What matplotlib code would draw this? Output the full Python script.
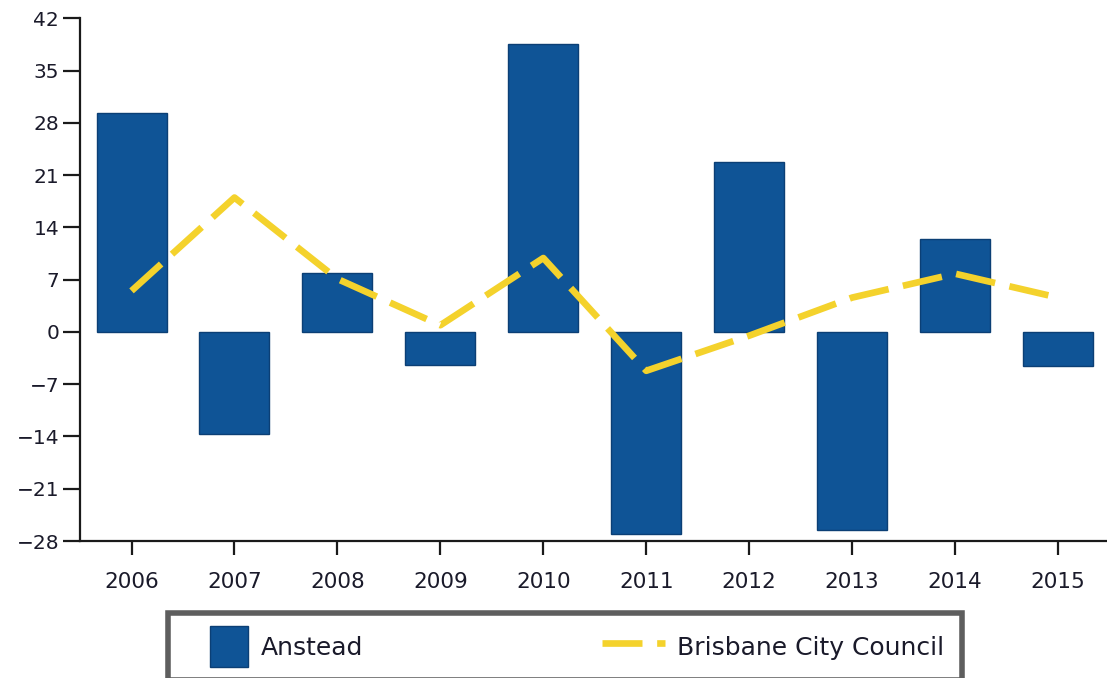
import matplotlib
matplotlib.use("Agg")
import matplotlib.pyplot as plt
import matplotlib.patches as mpatches
from matplotlib.legend_handler import HandlerPatch
import numpy as np

years = ["2006", "2007", "2008", "2009", "2010", "2011", "2012", "2013", "2014", "2015"]
anstead = [29.3, -13.6, 7.9, -4.4, 38.6, -27.0, 22.8, -26.5, 12.4, -4.6]
brisbane = [5.5, 18.0, 7.1, 0.9, 9.9, -5.2, -0.5, 4.6, 7.8, 4.6]
yticks = [-28, -21, -14, -7, 0, 7, 14, 21, 28, 35, 42]

fig = plt.figure(figsize=(11.07, 6.78), dpi=100)
ax = fig.add_axes([0.0723, 0.202, 0.93, 0.771])

x = np.arange(len(years))
bars = ax.bar(x, anstead, width=0.68, color="#0f5496", edgecolor="#0b3f75", linewidth=1.0,
              label="Anstead", zorder=2)
line, = ax.plot(x, brisbane, color="#f4d22c", linewidth=4.8, dashes=(6.0, 2.2),
                solid_capstyle="butt", dash_capstyle="butt", label="Brisbane City Council",
                zorder=3)

ax.set_xlim(-0.5, 9.5)
ax.set_ylim(-28, 42)
ax.set_yticks(yticks)
ax.set_yticklabels([str(t).replace("-", "\u2212") for t in yticks])
ax.set_xticks(x)
ax.set_xticklabels(years)

for s in ["top", "right"]:
    ax.spines[s].set_visible(False)
for s in ["left", "bottom"]:
    ax.spines[s].set_linewidth(1.6)
    ax.spines[s].set_color("#1a1a1a")

ax.tick_params(axis="y", length=12, width=1.6, color="#1a1a1a", labelsize=14.5,
               labelcolor="#1a1a2a", pad=3)
ax.tick_params(axis="x", length=10, width=1.6, color="#1a1a1a", labelsize=15.5,
               labelcolor="#1a1a2a", pad=12)


def square_patch(legend, orig_handle, xdescent, ydescent, width, height, fontsize):
    w = width * 0.62
    extra = height * 0.15
    return mpatches.Rectangle((width - w - xdescent, -ydescent - extra), w, height + 2 * extra)


leg = fig.legend(handles=[bars.patches[0], line], labels=["Anstead", "Brisbane City Council"],
                 loc="upper left", bbox_to_anchor=(0.152, 0.0, 0.717, 0.096),
                 mode="expand", ncol=2, fontsize=18, frameon=True, fancybox=False,
                 handlelength=2.5, handleheight=1.6, borderaxespad=0.0,
                 borderpad=0.7, handletextpad=0.5,
                 handler_map={mpatches.Rectangle: HandlerPatch(patch_func=square_patch)})
frame = leg.get_frame()
frame.set_edgecolor("#363636")
frame.set_linewidth(4.0)
for t in leg.get_texts():
    t.set_color("#1a1a2a")

fig.savefig("out.png", dpi=100)
